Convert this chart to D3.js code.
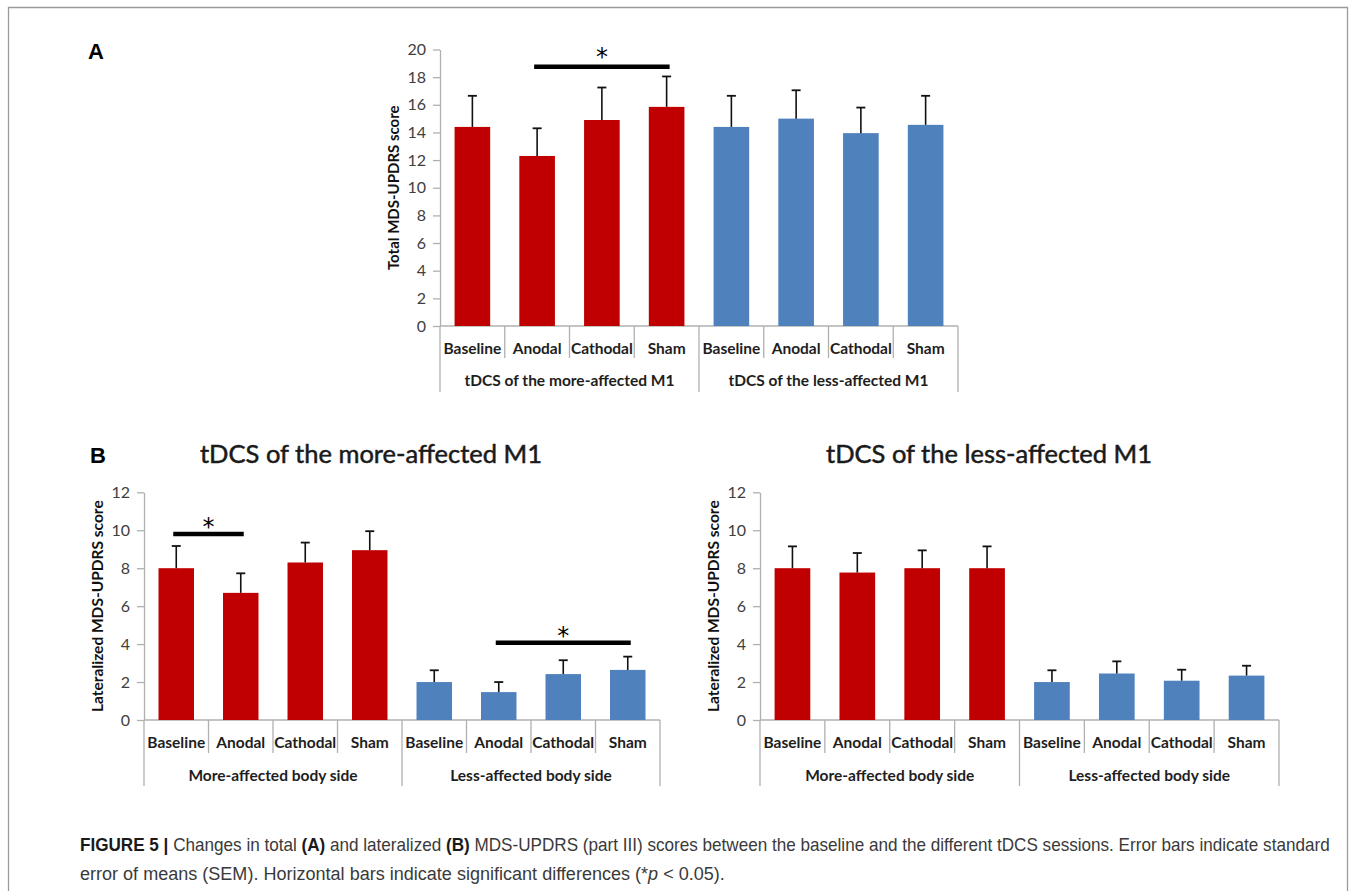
<!DOCTYPE html>
<html>
<head>
<meta charset="utf-8">
<script src="https://cdn.jsdelivr.net/npm/d3@7"></script>
<style>
body{margin:0;background:#fff}
svg text{font-family:Lato,"Noto Sans",sans-serif}
</style>
</head>
<body>
<svg id="fig" width="1354" height="891"></svg>
<script>
// ---- data ----
var categories = ["Baseline","Anodal","Cathodal","Sham"]

// panel A: total score
var aGroups = ["tDCS of the more-affected M1","tDCS of the less-affected M1"]
var aMoreMean = [14.4, 12.3, 14.9, 15.85]
var aMoreSem  = [2.25, 2.0, 2.35, 2.2]
var aLessMean = [14.4, 15.0, 13.95, 14.55]
var aLessSem  = [2.25, 2.05, 1.85, 2.1]
var aTicks = [0,2,4,6,8,10,12,14,16,18,20]
var aSig = [{from:1, to:3, level:18.75}]

// panel B: lateralized score
var bGroups = ["More-affected body side","Less-affected body side"]
var bTicks = [0,2,4,6,8,10,12]
// left chart: tDCS of the more-affected M1
var bMoreSideMean1 = [8.0, 6.7, 8.3, 8.95]
var bMoreSideSem1  = [1.17, 1.03, 1.05, 1.0]
var bLessSideMean1 = [2.0, 1.47, 2.42, 2.64]
var bLessSideSem1  = [0.62, 0.53, 0.73, 0.7]
var bSig1 = [{from:0, to:1, level:9.8}, {from:5, to:7, level:4.07}]
// right chart: tDCS of the less-affected M1
var bMoreSideMean2 = [8.0, 7.77, 8.0, 8.0]
var bMoreSideSem2  = [1.15, 1.03, 0.94, 1.15]
var bLessSideMean2 = [2.0, 2.45, 2.07, 2.34]
var bLessSideSem2  = [0.62, 0.64, 0.58, 0.52]
var bSig2 = []

var red = "#C00000", blue = "#4F81BD", axisGray = "#b0b0b0"

var svg = d3.select("#fig")

// frame
svg.append("path").attr("d","M8.5,891V7.5H1347.5V891")
    .attr("fill","none").attr("stroke","#9a9a9a").attr("stroke-width",1.3)

function drawPanel(cfg){
    var g = svg.append("g")
    var rows = []
    cfg.series.forEach(function(s, gi){
        categories.forEach(function(c, ci){
            rows.push({cat:c, group:gi, mean:s.mean[ci], sem:s.sem[ci], color: gi==0 ? red : blue})
        })
    })
    var x = d3.scaleBand().domain(d3.range(rows.length))
        .range([cfg.left, cfg.right]).paddingInner(0.45).paddingOuter(0.225)
    var step = x.step()
    var y = d3.scaleLinear().domain([0, cfg.max]).range([cfg.bottom, cfg.top])

//y axis
    var ya = g.append("g").attr("transform","translate("+cfg.left+",0)")
        .call(d3.axisLeft(y).tickValues(cfg.ticks).tickSize(7).tickSizeOuter(0).tickPadding(7))
    ya.select(".domain").attr("stroke",axisGray).attr("stroke-width",1.3)
    ya.selectAll(".tick line").attr("stroke",axisGray).attr("stroke-width",1.3)
    ya.selectAll(".tick text").attr("fill","#404040").style("font-size","16px")

//category axis
    g.append("line").attr("x1",cfg.left).attr("x2",cfg.right)
        .attr("y1",y(0)).attr("y2",y(0)).attr("stroke",axisGray).attr("stroke-width",1.3)
    g.selectAll(".sep").data(d3.range(rows.length+1)).enter().append("line")
        .attr("x1",function(i){ return cfg.left+i*step }).attr("x2",function(i){ return cfg.left+i*step })
        .attr("y1",y(0))
        .attr("y2",function(i){ return i%4==0 ? cfg.groupLine : cfg.catLine })
        .attr("stroke",axisGray).attr("stroke-width",1.3)
    g.selectAll(".cat").data(rows).enter().append("text")
        .attr("x",function(d,i){ return x(i)+x.bandwidth()/2 }).attr("y",cfg.catBase)
        .attr("text-anchor","middle").attr("fill","#1e1e1e")
        .style("font-size","15.5px").style("font-weight","bold")
        .text(function(d){ return d.cat })
    g.selectAll(".grp").data(cfg.groupNames).enter().append("text")
        .attr("x",function(d,i){ return cfg.left+(i*4+2)*step }).attr("y",cfg.groupBase)
        .attr("text-anchor","middle").attr("fill","#1e1e1e")
        .style("font-size","15.5px").style("font-weight","bold")
        .text(function(d){ return d })

//bars
    g.selectAll(".bar").data(rows).enter().append("rect")
        .attr("x",function(d,i){ return x(i) }).attr("width",x.bandwidth())
        .attr("y",function(d){ return y(d.mean) })
        .attr("height",function(d){ return y(0)-y(d.mean) })
        .attr("fill",function(d){ return d.color })

//error bars (upper only)
    var cx = function(i){ return x(i)+x.bandwidth()/2 }
    g.selectAll(".err").data(rows).enter().append("line")
        .attr("x1",function(d,i){ return cx(i) }).attr("x2",function(d,i){ return cx(i) })
        .attr("y1",function(d){ return y(d.mean) }).attr("y2",function(d){ return y(d.mean+d.sem) })
        .attr("stroke","#111").attr("stroke-width",1.6)
    g.selectAll(".cap").data(rows).enter().append("line")
        .attr("x1",function(d,i){ return cx(i)-4.5 }).attr("x2",function(d,i){ return cx(i)+4.5 })
        .attr("y1",function(d){ return y(d.mean+d.sem) }).attr("y2",function(d){ return y(d.mean+d.sem) })
        .attr("stroke","#111").attr("stroke-width",1.8)

//significance
    g.selectAll(".sig").data(cfg.sig).enter().append("line")
        .attr("x1",function(d){ return cx(d.from)-3 }).attr("x2",function(d){ return cx(d.to)+3 })
        .attr("y1",function(d){ return y(d.level) }).attr("y2",function(d){ return y(d.level) })
        .attr("stroke","#000").attr("stroke-width",4.5)
    g.selectAll(".star").data(cfg.sig).enter().append("text")
        .attr("x",function(d){ return (cx(d.from)+cx(d.to))/2 })
        .attr("y",function(d){ return y(d.level)+cfg.starShift })
        .attr("text-anchor","middle").attr("fill","#000")
        .style("font-family","'DejaVu Sans',sans-serif").style("font-size","24px")
        .text("*")

//y title
    g.append("text")
        .attr("transform","translate("+cfg.titleX+","+((cfg.top+cfg.bottom)/2)+") rotate(-90)")
        .attr("text-anchor","middle").attr("dominant-baseline","central")
        .style("font-size",cfg.titleSize).style("font-weight","bold").attr("fill","#111")
        .text(cfg.yTitle)

    if(cfg.chartTitle){
        svg.append("text").attr("x",cfg.chartTitleX).attr("y",463)
            .attr("text-anchor","middle").style("font-size","25.5px").attr("fill","#1a1a1a")
            .attr("stroke","#1a1a1a").attr("stroke-width",0.5)
            .text(cfg.chartTitle)
    }
}

drawPanel({left:440, right:958, top:49.5, bottom:326, max:20, ticks:aTicks,
    series:[{mean:aMoreMean, sem:aMoreSem},{mean:aLessMean, sem:aLessSem}],
    groupNames:aGroups, catBase:354, groupBase:386, catLine:358, groupLine:392,
    sig:aSig, starShift:-2, yTitle:"Total MDS-UPDRS score", titleX:393, titleSize:"15px"})

drawPanel({left:144, right:660, top:492.3, bottom:720, max:12, ticks:bTicks,
    series:[{mean:bMoreSideMean1, sem:bMoreSideSem1},{mean:bLessSideMean1, sem:bLessSideSem1}],
    groupNames:bGroups, catBase:747.5, groupBase:781, catLine:753, groupLine:786,
    sig:bSig1, starShift:1, yTitle:"Lateralized MDS-UPDRS score", titleX:97, titleSize:"15.5px",
    chartTitle:"tDCS of the more-affected M1", chartTitleX:371})

drawPanel({left:760, right:1279, top:492.3, bottom:720, max:12, ticks:bTicks,
    series:[{mean:bMoreSideMean2, sem:bMoreSideSem2},{mean:bLessSideMean2, sem:bLessSideSem2}],
    groupNames:bGroups, catBase:747.5, groupBase:781, catLine:753, groupLine:786,
    sig:bSig2, starShift:1, yTitle:"Lateralized MDS-UPDRS score", titleX:713, titleSize:"15.5px",
    chartTitle:"tDCS of the less-affected M1", chartTitleX:989})

// panel letters
svg.append("text").attr("x",88).attr("y",59).text("A")
    .style("font-family","'Liberation Sans',Arial,sans-serif").style("font-size","22px").style("font-weight","bold")
svg.append("text").attr("x",90).attr("y",463).text("B")
    .style("font-family","'Liberation Sans',Arial,sans-serif").style("font-size","22px").style("font-weight","bold")

// caption (narrow Helvetica look: Liberation Sans squeezed horizontally)
var cap1 = [["FIGURE 5 | ","b"],["Changes in total ",""],["(A)","b"],[" and lateralized ",""],["(B)","b"],
    [" MDS-UPDRS (part III) scores between the baseline and the different tDCS sessions. Error bars indicate standard",""]]
var cap2 = [["error of means (SEM). Horizontal bars indicate significant differences (*",""],["p","i"],[" < 0.05).",""]]

function captionLine(parts){
    var t = svg.append("text").attr("x",0).attr("y",0)
        .style("font-family","'Liberation Sans',Arial,sans-serif").style("font-size","18px")
        .attr("fill","#3a3a3a")
    parts.forEach(function(p){
        var s = t.append("tspan").text(p[0])
        if(p[1]=="b") s.style("font-weight","bold").attr("fill","#1a1a1a")
        if(p[1]=="i") s.style("font-style","italic")
    })
    return t
}
var line1 = captionLine(cap1), line2 = captionLine(cap2)
var sx1 = 1251 / line1.node().getComputedTextLength()
var sx2 = 645 / line2.node().getComputedTextLength()
line1.attr("transform","translate(80,851) scale("+sx1+",1)")
line2.attr("transform","translate(80,880) scale("+sx2+",1)")
</script>
</body>
</html>
